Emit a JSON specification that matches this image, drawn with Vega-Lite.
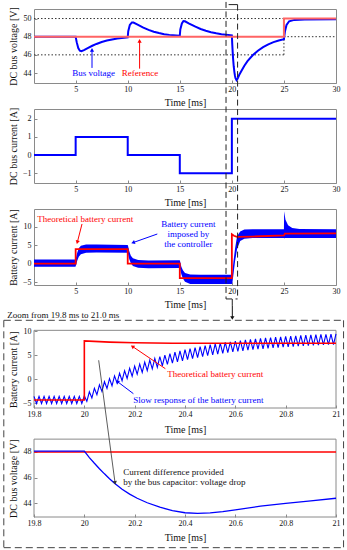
{
"$schema": "https://vega.github.io/schema/vega-lite/v6.json",
"background": "white",
"padding": {"left": 3, "top": 0, "right": 3, "bottom": 3},
"autosize": {"type": "pad"},
"spacing": 26,
"bounds": "flush",
"config": {
  "view": {"stroke": "#8a8a8a", "strokeWidth": 1},
  "axis": {"domain": false, "grid": false, "tickColor": "#8a8a8a", "tickSize": -3, "labelFont": "Liberation Serif", "labelFontSize": 8, "labelColor": "#111", "titleFont": "Liberation Serif", "titleFontSize": 10, "titleFontWeight": "normal", "titleColor": "#111", "labelFlush": false, "labelOverlap": false},
  "axisX": {"labelPadding": 5},
  "axisY": {"labelPadding": 6},
  "text": {"font": "Liberation Serif", "fontSize": 9}
},
"vconcat": [
{
  "width": 302, "height": 74,
  "encoding": {
    "x": {"field": "t", "type": "quantitative", "scale": {"domain": [1, 30], "nice": false, "zero": false}, "axis": {"values": [5,10,15,20,25,30], "title": "Time [ms]", "titleY": 19.5, "titleBaseline": "middle"}},
    "y": {"field": "v", "type": "quantitative", "scale": {"domain": [42.9, 51.05], "nice": false, "zero": false}, "axis": {"values": [44,46,48,50], "title": "DC bus voltage [V]", "titleX": -20.4, "titleBaseline": "middle"}}
  },
  "layer": [
    {"data": {"values": [{"t":1,"v":50,"t2":25,"v2":50},{"t":1,"v":46,"t2":25,"v2":46},{"t":25,"v":48,"t2":30,"v2":48},{"t":25,"v":46,"t2":25,"v2":50}]},
     "mark": {"type": "rule", "strokeDash": [1.5, 2], "color": "#333", "strokeWidth": 1},
     "encoding": {"x2": {"field": "t2"}, "y2": {"field": "v2"}}},
    {"data": {"values": [{"t":1,"v":48},{"t":5,"v":48},{"t":5.1,"v":47.4},{"t":5.25,"v":46.75},{"t":5.4,"v":46.45},{"t":5.55,"v":46.4},{"t":5.8,"v":46.52},{"t":6.2,"v":46.78},{"t":6.6,"v":47.0},{"t":7,"v":47.2},{"t":7.5,"v":47.42},{"t":8,"v":47.58},{"t":8.5,"v":47.7},{"t":9,"v":47.8},{"t":10,"v":47.92},{"t":10.05,"v":48.6},{"t":10.2,"v":49.3},{"t":10.4,"v":49.55},{"t":10.55,"v":49.55},{"t":10.9,"v":49.35},{"t":11.5,"v":49.0},{"t":12,"v":48.75},{"t":12.5,"v":48.55},{"t":13,"v":48.4},{"t":13.5,"v":48.28},{"t":14,"v":48.2},{"t":15,"v":48.1},{"t":15.05,"v":48.8},{"t":15.2,"v":49.45},{"t":15.35,"v":49.72},{"t":15.5,"v":49.7},{"t":15.9,"v":49.45},{"t":16.5,"v":49.1},{"t":17,"v":48.85},{"t":17.5,"v":48.65},{"t":18,"v":48.5},{"t":18.5,"v":48.38},{"t":19,"v":48.28},{"t":20,"v":48.15},{"t":20.04,"v":47.12},{"t":20.08,"v":46.3},{"t":20.12,"v":45.56},{"t":20.18,"v":44.72},{"t":20.25,"v":44.05},{"t":20.3,"v":43.7},{"t":20.35,"v":43.44},{"t":20.45,"v":43.22},{"t":20.55,"v":43.36},{"t":20.7,"v":43.78},{"t":20.9,"v":44.2},{"t":21.2,"v":44.8},{"t":21.5,"v":45.3},{"t":22,"v":45.95},{"t":22.5,"v":46.45},{"t":23,"v":46.85},{"t":23.5,"v":47.15},{"t":24,"v":47.4},{"t":24.5,"v":47.58},{"t":25,"v":47.72},{"t":25.1,"v":48.6},{"t":25.25,"v":49.3},{"t":25.5,"v":49.7},{"t":26,"v":49.85},{"t":27,"v":49.9},{"t":30,"v":49.92}]},
     "mark": {"type": "line", "color": "#0000ff", "strokeWidth": 2}},
    {"data": {"values": [{"t":1,"v":48},{"t":25,"v":48},{"t":25,"v":50},{"t":30,"v":50}]},
     "mark": {"type": "line", "color": "#ff6464", "strokeWidth": 2},
     "encoding": {"order": {"value": null}}},
    {"data": {"values": [{"t":6.57,"v":44.56,"t2":6.57,"v2":46.5}]},
     "mark": {"type": "rule", "color": "#0000ff", "strokeWidth": 1},
     "encoding": {"x2": {"field": "t2"}, "y2": {"field": "v2"}}},
    {"data": {"values": [{"t":6.57,"v":46.54}]},
     "mark": {"type": "point", "shape": "triangle-up", "filled": true, "size": 18, "color": "#0000ff", "opacity": 1, "angle": 0}},
    {"data": {"values": [{"t":11.14,"v":44.48,"t2":11.14,"v2":47.5}]},
     "mark": {"type": "rule", "color": "#ff0000", "strokeWidth": 1},
     "encoding": {"x2": {"field": "t2"}, "y2": {"field": "v2"}}},
    {"data": {"values": [{"t":11.14,"v":47.53}]},
     "mark": {"type": "point", "shape": "triangle-up", "filled": true, "size": 18, "color": "#ff0000", "opacity": 1, "angle": 0}},
    {"data": {"values": [{"t":6.72,"v":44.04,"label":"Bus voltage"}]},
     "mark": {"type": "text", "color": "#0000ff", "align": "center", "baseline": "middle"},
     "encoding": {"text": {"field": "label"}}},
    {"data": {"values": [{"t":11.18,"v":44.04,"label":"Reference"}]},
     "mark": {"type": "text", "color": "#ff0000", "align": "center", "baseline": "middle"},
     "encoding": {"text": {"field": "label"}}}
  ]
},
{
  "width": 302, "height": 74,
  "encoding": {
    "x": {"field": "t", "type": "quantitative", "scale": {"domain": [1, 30], "nice": false, "zero": false}, "axis": {"values": [5,10,15,20,25,30], "title": "Time [ms]", "titleY": 19.5, "titleBaseline": "middle"}},
    "y": {"field": "v", "type": "quantitative", "scale": {"domain": [-1.53, 2.53], "nice": false, "zero": false}, "axis": {"values": [-1,0,1,2], "title": "DC bus current [A]", "titleX": -20.4, "titleBaseline": "middle"}}
  },
  "layer": [
    {"data": {"values": [{"t":1,"v":0},{"t":5,"v":1},{"t":10,"v":0},{"t":15,"v":-1},{"t":20,"v":2},{"t":30,"v":2}]},
     "mark": {"type": "line", "color": "#0000ff", "strokeWidth": 2, "interpolate": "step-after"}}
  ]
},
{
  "width": 302, "height": 76,
  "encoding": {
    "x": {"field": "t", "type": "quantitative", "scale": {"domain": [1, 30], "nice": false, "zero": false}, "axis": {"values": [5,10,15,20,25,30], "title": "Time [ms]", "titleY": 19.5, "titleBaseline": "middle"}},
    "y": {"field": "v", "type": "quantitative", "scale": {"domain": [-5.8, 14.9], "nice": false, "zero": false}, "axis": {"values": [-5,0,5,10,15], "title": "Battery current [A]", "titleX": -20.4, "titleBaseline": "middle"}}
  },
  "layer": [
    {"data": {"values": [{"t":1,"v":-0.85,"v2":1.15},{"t":4.98,"v":-0.85,"v2":1.15},{"t":5.05,"v":-0.3,"v2":1.8},{"t":5.15,"v":0.8,"v2":3.0},{"t":5.3,"v":1.9,"v2":4.2},{"t":5.5,"v":2.6,"v2":4.9},{"t":6,"v":3.0,"v2":5.25},{"t":7,"v":3.05,"v2":5.2},{"t":10,"v":2.95,"v2":5.1},{"t":10.05,"v":2.4,"v2":4.6},{"t":10.15,"v":1.2,"v2":3.4},{"t":10.3,"v":0.1,"v2":2.2},{"t":10.5,"v":-0.6,"v2":1.5},{"t":11,"v":-1.1,"v2":1.0},{"t":12,"v":-1.25,"v2":0.9},{"t":15,"v":-1.2,"v2":0.95},{"t":15.05,"v":-1.7,"v2":0.4},{"t":15.15,"v":-2.9,"v2":-0.8},{"t":15.3,"v":-4.0,"v2":-1.8},{"t":15.5,"v":-4.9,"v2":-2.5},{"t":16,"v":-5.5,"v2":-2.95},{"t":17,"v":-5.55,"v2":-3.0},{"t":20,"v":-5.5,"v2":-3.0},{"t":20.05,"v":-5.2,"v2":-2.3},{"t":20.15,"v":-3.0,"v2":0.5},{"t":20.3,"v":0.5,"v2":4.0},{"t":20.5,"v":4.0,"v2":7.5},{"t":20.8,"v":6.2,"v2":8.8},{"t":21.2,"v":6.8,"v2":9.3},{"t":22,"v":7.0,"v2":9.4},{"t":25,"v":7.0,"v2":9.4},{"t":25.02,"v":6.9,"v2":14.3},{"t":25.15,"v":7.0,"v2":12.0},{"t":25.4,"v":7.0,"v2":10.5},{"t":25.8,"v":7.0,"v2":9.7},{"t":26.5,"v":7.0,"v2":9.45},{"t":30,"v":7.0,"v2":9.4}]},
     "mark": {"type": "area", "color": "#0000ff", "opacity": 1},
     "encoding": {"y2": {"field": "v2"}}},
    {"data": {"values": [{"t":1,"v":0},{"t":5,"v":0},{"t":5,"v":3.95},{"t":10,"v":3.95},{"t":10,"v":0},{"t":15,"v":0},{"t":15,"v":-3.95},{"t":20,"v":-3.95},{"t":20,"v":8.0},{"t":20.2,"v":7.6},{"t":20.5,"v":7.3},{"t":22,"v":7.4},{"t":25,"v":7.7},{"t":25.1,"v":8.2},{"t":30,"v":8.25}]},
     "mark": {"type": "line", "color": "#ff0000", "strokeWidth": 1.8},
     "encoding": {"order": {"value": null}}},
    {"data": {"values": [{"t":5.93,"v":12.18,"label":"Theoretical battery current"}]},
     "mark": {"type": "text", "color": "#ff0000", "align": "center", "baseline": "middle"},
     "encoding": {"text": {"field": "label"}}},
    {"data": {"values": [{"t":5.61,"v":10.82,"t2":5.16,"v2":5.83}]},
     "mark": {"type": "rule", "color": "#ff0000", "strokeWidth": 1},
     "encoding": {"x2": {"field": "t2"}, "y2": {"field": "v2"}}},
    {"data": {"values": [{"t":5.16,"v":5.83}]},
     "mark": {"type": "point", "shape": "triangle-up", "filled": true, "size": 18, "color": "#ff0000", "opacity": 1, "angle": 195}},
    {"data": {"values": [{"t":15.82,"v":10.82,"label":"Battery current"},{"t":15.82,"v":8.09,"label":"imposed by"},{"t":15.82,"v":5.37,"label":"the controller"}]},
     "mark": {"type": "text", "color": "#0000ff", "align": "center", "baseline": "middle"},
     "encoding": {"text": {"field": "label"}}},
    {"data": {"values": [{"t":12.84,"v":8.09,"t2":10.51,"v2":5.75}]},
     "mark": {"type": "rule", "color": "#0000ff", "strokeWidth": 1},
     "encoding": {"x2": {"field": "t2"}, "y2": {"field": "v2"}}},
    {"data": {"values": [{"t":10.51,"v":5.75}]},
     "mark": {"type": "point", "shape": "triangle-up", "filled": true, "size": 18, "color": "#0000ff", "opacity": 1, "angle": 250}},
    {"data": {"values": [{"t":19.44,"v":71.3,"t2":19.44,"v2":-9.6},{"t":20.55,"v":70.57,"t2":20.55,"v2":-9.6},{"t":19.44,"v":-9.6,"t2":20.55,"v2":-9.6}]},
     "mark": {"type": "rule", "color": "#222", "strokeWidth": 1, "strokeDash": [6, 3.5]},
     "encoding": {"x2": {"field": "t2"}, "y2": {"field": "v2"}}},
    {"data": {"values": [{"t":19.69,"v":70.57,"t2":20.55,"v2":70.57},{"t":20.04,"v":-9.6,"t2":20.04,"v2":-11.5}]},
     "mark": {"type": "rule", "color": "#222", "strokeWidth": 1},
     "encoding": {"x2": {"field": "t2"}, "y2": {"field": "v2"}}}
  ]
},
{
  "width": 302, "height": 97,
  "view": {"stroke": null},
  "encoding": {
    "x": {"field": "t", "type": "quantitative", "scale": {"domain": [19.8, 21], "nice": false, "zero": false}, "axis": {"values": [19.8,20,20.2,20.4,20.6,20.8,21], "format": "~g", "title": "Time [ms]", "titleY": 21.5, "titleBaseline": "middle"}},
    "y": {"field": "v", "type": "quantitative", "scale": {"domain": [-5.98, 14.23], "nice": false, "zero": false}, "axis": {"values": [-5,0,5,10], "title": "Battery current [A]", "titleX": -20.4, "titleY": 58.2, "titleBaseline": "middle"}}
  },
  "layer": [
    {"data": {"values": [{"t":19.8,"v":10.2,"t2":21,"v2":10.2},{"t":19.8,"v":-5.98,"t2":21,"v2":-5.98},{"t":19.8,"v":10.2,"t2":19.8,"v2":-5.98},{"t":21,"v":10.2,"t2":21,"v2":-5.98}]},
     "mark": {"type": "rule", "color": "#8a8a8a", "strokeWidth": 1},
     "encoding": {"x2": {"field": "t2"}, "y2": {"field": "v2"}}},
    {"data": {"values": [{"t":19.8,"v":-3.55},{"t":19.81,"v":-5.05},{"t":19.82,"v":-3.55},{"t":19.83,"v":-5.05},{"t":19.84,"v":-3.55},{"t":19.85,"v":-5.05},{"t":19.86,"v":-3.55},{"t":19.87,"v":-5.05},{"t":19.88,"v":-3.55},{"t":19.89,"v":-5.05},{"t":19.9,"v":-3.55},{"t":19.91,"v":-5.05},{"t":19.92,"v":-3.55},{"t":19.93,"v":-5.05},{"t":19.94,"v":-3.55},{"t":19.95,"v":-5.05},{"t":19.96,"v":-3.55},{"t":19.97,"v":-5.05},{"t":19.98,"v":-3.55},{"t":19.99,"v":-5.05},
      {"t":20.0,"v":-3.45},{"t":20.01,"v":-4.62},{"t":20.02,"v":-2.61},{"t":20.03,"v":-3.88},{"t":20.04,"v":-1.86},{"t":20.05,"v":-3.19},{"t":20.06,"v":-1.16},{"t":20.07,"v":-2.53},{"t":20.08,"v":-0.5},{"t":20.09,"v":-1.92},{"t":20.1,"v":0.13},{"t":20.11,"v":-1.35},{"t":20.12,"v":0.71},{"t":20.13,"v":-0.8},{"t":20.14,"v":1.27},{"t":20.15,"v":-0.29},{"t":20.16,"v":1.79},{"t":20.17,"v":0.18},{"t":20.18,"v":2.29},{"t":20.19,"v":0.63},{"t":20.2,"v":2.75},{"t":20.21,"v":1.05},{"t":20.22,"v":3.19},{"t":20.23,"v":1.45},{"t":20.24,"v":3.6},{"t":20.25,"v":1.82},{"t":20.26,"v":3.99},{"t":20.27,"v":2.17},{"t":20.28,"v":4.36},{"t":20.29,"v":2.5},{"t":20.3,"v":4.71},{"t":20.31,"v":2.81},{"t":20.32,"v":5.04},{"t":20.33,"v":3.09},{"t":20.34,"v":5.34},{"t":20.35,"v":3.37},{"t":20.36,"v":5.64},{"t":20.37,"v":3.62},{"t":20.38,"v":5.91},{"t":20.39,"v":3.86},{"t":20.4,"v":6.17},{"t":20.41,"v":4.09},{"t":20.42,"v":6.4},{"t":20.43,"v":4.31},{"t":20.44,"v":6.62},{"t":20.45,"v":4.52},{"t":20.46,"v":6.83},{"t":20.47,"v":4.72},{"t":20.48,"v":7.02},{"t":20.49,"v":4.91},{"t":20.5,"v":7.2},{"t":20.51,"v":5.08},{"t":20.52,"v":7.37},{"t":20.53,"v":5.25},{"t":20.54,"v":7.53},{"t":20.55,"v":5.41},{"t":20.56,"v":7.68},{"t":20.57,"v":5.55},{"t":20.58,"v":7.82},{"t":20.59,"v":5.69},{"t":20.6,"v":7.96},{"t":20.61,"v":5.82},{"t":20.62,"v":8.08},{"t":20.63,"v":5.94},{"t":20.64,"v":8.2},{"t":20.65,"v":6.06},{"t":20.66,"v":8.31},{"t":20.67,"v":6.17},{"t":20.68,"v":8.42},{"t":20.69,"v":6.27},{"t":20.7,"v":8.52},{"t":20.71,"v":6.36},{"t":20.72,"v":8.61},{"t":20.73,"v":6.45},{"t":20.74,"v":8.7},{"t":20.75,"v":6.54},{"t":20.76,"v":8.78},{"t":20.77,"v":6.62},{"t":20.78,"v":8.86},{"t":20.79,"v":6.69},{"t":20.8,"v":8.93},{"t":20.81,"v":6.77},{"t":20.82,"v":9.0},{"t":20.83,"v":6.83},{"t":20.84,"v":9.07},{"t":20.85,"v":6.9},{"t":20.86,"v":9.13},{"t":20.87,"v":6.95},{"t":20.88,"v":9.18},{"t":20.89,"v":7.01},{"t":20.9,"v":9.24},{"t":20.91,"v":7.06},{"t":20.92,"v":9.29},{"t":20.93,"v":7.11},{"t":20.94,"v":9.34},{"t":20.95,"v":7.16},{"t":20.96,"v":9.38},{"t":20.97,"v":7.2},{"t":20.98,"v":9.42},{"t":20.99,"v":7.24},{"t":21.0,"v":9.46}]},
     "mark": {"type": "line", "color": "#0000ff", "strokeWidth": 1.1}},
    {"data": {"values": [{"t":19.8,"v":-4.3},{"t":20,"v":-4.3},{"t":20,"v":8.0},{"t":20.1,"v":7.75},{"t":20.2,"v":7.6},{"t":20.35,"v":7.5},{"t":21,"v":7.5}]},
     "mark": {"type": "line", "color": "#ff0000", "strokeWidth": 1.6},
     "encoding": {"order": {"value": null}}},
    {"data": {"values": [{"t":20.52,"v":1.17,"label":"Theoretical battery current"}]},
     "mark": {"type": "text", "color": "#ff0000", "align": "center", "baseline": "middle"},
     "encoding": {"text": {"field": "label"}}},
    {"data": {"values": [{"t":20.322,"v":2.21,"t2":20.191,"v2":6.85}]},
     "mark": {"type": "rule", "color": "#ff0000", "strokeWidth": 1},
     "encoding": {"x2": {"field": "t2"}, "y2": {"field": "v2"}}},
    {"data": {"values": [{"t":20.191,"v":6.85}]},
     "mark": {"type": "point", "shape": "triangle-up", "filled": true, "size": 18, "color": "#ff0000", "opacity": 1, "angle": 304}},
    {"data": {"values": [{"t":20.453,"v":-4.37,"label":"Slow response of the battery current"}]},
     "mark": {"type": "text", "color": "#0000ff", "align": "center", "baseline": "middle"},
     "encoding": {"text": {"field": "label"}}},
    {"data": {"values": [{"t":20.195,"v":-3.0,"t2":20.131,"v2":-0.46}]},
     "mark": {"type": "rule", "color": "#0000ff", "strokeWidth": 1},
     "encoding": {"x2": {"field": "t2"}, "y2": {"field": "v2"}}},
    {"data": {"values": [{"t":20.131,"v":-0.46}]},
     "mark": {"type": "point", "shape": "triangle-up", "filled": true, "size": 18, "color": "#0000ff", "opacity": 1, "angle": 307}},
    {"data": {"values": [{"t":19.68,"v":12.29,"t2":21.03,"v2":12.29},{"t":19.68,"v":-35.08,"t2":21.03,"v2":-35.08},{"t":19.68,"v":12.29,"t2":19.68,"v2":-35.08},{"t":21.03,"v":12.29,"t2":21.03,"v2":-35.08}]},
     "mark": {"type": "rule", "color": "#444", "strokeWidth": 1, "strokeDash": [7, 4]},
     "encoding": {"x2": {"field": "t2"}, "y2": {"field": "v2"}}},
    {"data": {"values": [{"t":19.694,"v":13.33,"label":"Zoom from 19.8 ms to 21.0 ms"}]},
     "mark": {"type": "text", "color": "#111", "align": "left", "baseline": "middle"},
     "encoding": {"text": {"field": "label"}}},
    {"data": {"values": [{"t":20.588,"v":15.27,"t2":20.588,"v2":12.8}]},
     "mark": {"type": "rule", "color": "#111", "strokeWidth": 1},
     "encoding": {"x2": {"field": "t2"}, "y2": {"field": "v2"}}},
    {"data": {"values": [{"t":20.588,"v":12.77}]},
     "mark": {"type": "point", "shape": "triangle-up", "filled": true, "size": 18, "color": "#111", "opacity": 1, "angle": 180}}
  ]
},
{
  "width": 302, "height": 83,
  "view": {"stroke": null},
  "encoding": {
    "x": {"field": "t", "type": "quantitative", "scale": {"domain": [19.8, 21], "nice": false, "zero": false}, "axis": {"values": [19.8,20,20.2,20.4,20.6,20.8,21], "format": "~g", "title": "Time [ms]", "titleY": 20.7, "titleBaseline": "middle"}},
    "y": {"field": "v", "type": "quantitative", "scale": {"domain": [42.94, 49.4], "nice": false, "zero": false}, "axis": {"values": [44,46,48], "title": "DC bus voltage [V]", "titleX": -20.4, "titleY": 44.2, "titleBaseline": "middle"}}
  },
  "layer": [
    {"data": {"values": [{"t":19.8,"v":49,"t2":21,"v2":49},{"t":19.8,"v":42.94,"t2":21,"v2":42.94},{"t":19.8,"v":49,"t2":19.8,"v2":42.94},{"t":21,"v":49,"t2":21,"v2":42.94}]},
     "mark": {"type": "rule", "color": "#8a8a8a", "strokeWidth": 1},
     "encoding": {"x2": {"field": "t2"}, "y2": {"field": "v2"}}},
    {"data": {"values": [{"t":19.8,"v":48},{"t":21,"v":48}]},
     "mark": {"type": "line", "color": "#ff0000", "strokeWidth": 1.6}},
    {"data": {"values": [{"t":19.8,"v":48.06},{"t":20.0,"v":48.06},{"t":20.02,"v":47.56},{"t":20.04,"v":47.12},{"t":20.06,"v":46.7},{"t":20.08,"v":46.3},{"t":20.1,"v":45.92},{"t":20.12,"v":45.56},{"t":20.15,"v":45.1},{"t":20.18,"v":44.72},{"t":20.21,"v":44.4},{"t":20.25,"v":44.05},{"t":20.3,"v":43.7},{"t":20.35,"v":43.44},{"t":20.4,"v":43.27},{"t":20.45,"v":43.22},{"t":20.5,"v":43.26},{"t":20.55,"v":43.36},{"t":20.6,"v":43.5},{"t":20.7,"v":43.78},{"t":20.8,"v":44.0},{"t":20.9,"v":44.2},{"t":21.0,"v":44.4}]},
     "mark": {"type": "line", "color": "#0000ff", "strokeWidth": 1.3}},
    {"data": {"values": [{"t":20.057,"v":55.14,"t2":20.122,"v2":45.6}]},
     "mark": {"type": "rule", "color": "#333", "strokeWidth": 0.8},
     "encoding": {"x2": {"field": "t2"}, "y2": {"field": "v2"}}},
    {"data": {"values": [{"t":20.122,"v":45.6}]},
     "mark": {"type": "point", "shape": "triangle-up", "filled": true, "size": 18, "color": "#333", "opacity": 1, "angle": 172}},
    {"data": {"values": [{"t":20.155,"v":46.44,"label":"Current difference provided"},{"t":20.155,"v":45.67,"label":"by the bus capacitor: voltage drop"}]},
     "mark": {"type": "text", "color": "#111", "align": "left", "baseline": "middle"},
     "encoding": {"text": {"field": "label"}}}
  ]
}
]
}
